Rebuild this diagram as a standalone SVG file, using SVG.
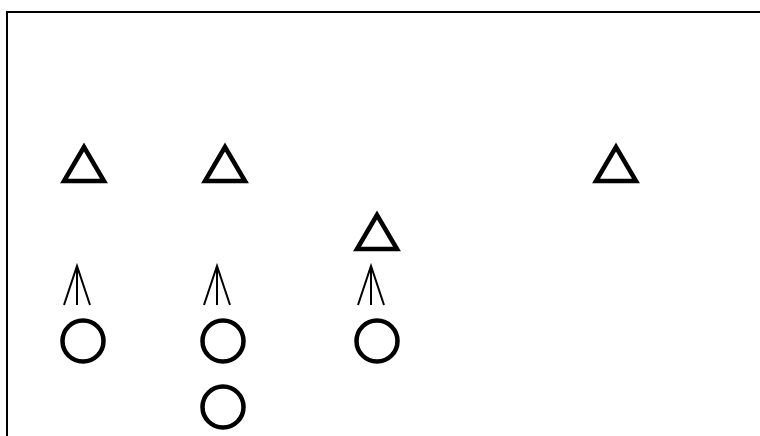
<svg xmlns="http://www.w3.org/2000/svg" width="760" height="436" viewBox="0 0 760 436">
<style>
.tri{fill:none;stroke:#000;stroke-width:4.5;stroke-linejoin:miter;stroke-miterlimit:10}
.circ{fill:none;stroke:#000;stroke-width:4.5}
.arr{fill:none;stroke:#000;stroke-width:2}
.frame{fill:none;stroke:#000;stroke-width:2}
</style>
<rect width="760" height="436" fill="#fff"/>
<polyline class="frame" points="7,440 7,12 762,12"/>
<g id="t1"><polygon class="tri" points="84,147 64,181 104,181"/></g>
<g id="t2"><polygon class="tri" points="225,147 205,181 245,181"/></g>
<g id="t3"><polygon class="tri" points="616,147 596,181 636,181"/></g>
<g id="t4"><polygon class="tri" points="377,215 357,249 397,249"/></g>
<g id="c1"><circle class="circ" cx="83" cy="341" r="20.5"/></g>
<g id="c2"><circle class="circ" cx="223" cy="341" r="20.5"/></g>
<g id="c3"><circle class="circ" cx="377" cy="341" r="20.5"/></g>
<g id="c4"><circle class="circ" cx="223" cy="407" r="20.5"/></g>
<g id="connectors">
<path class="arr" d="M77,305 V266 M64,305 L77,266 L90,305"/>
<path class="arr" d="M217,305 V266 M204,305 L217,266 L230,305"/>
<path class="arr" d="M371,305 V266 M358,305 L371,266 L384,305"/>
</g>
</svg>
